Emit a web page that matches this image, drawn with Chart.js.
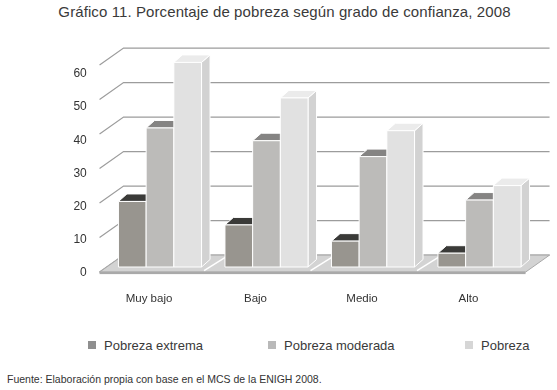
<!DOCTYPE html>
<html>
<head>
<meta charset="utf-8">
<script src="https://cdn.jsdelivr.net/npm/chart.js@4.4.1/dist/chart.umd.min.js"></script>
<style>
  body { margin: 0; background: #fff; font-family: "Liberation Sans", Arial, sans-serif; color: #333; }
  #wrap { position: relative; width: 557px; height: 390px; overflow: hidden; }
  #chart { position: absolute; left: 0; top: 0; }
  #title { position: absolute; left: 6px; top: 3px; width: 557px; text-align: center; font-size: 15px; letter-spacing: 0.1px; color: #3a3a3a; }
  .item { position: absolute; top: 338px; font-size: 13px; color: #3a3a3a; white-space: nowrap; }
  .item i { display: inline-block; width: 8px; height: 8px; margin-right: 8px; vertical-align: 1px; }
  #note { position: absolute; left: 7px; top: 373px; font-size: 10.5px; color: #333; }
</style>
</head>
<body>
<div id="wrap">
  <div id="title">Gráfico 11. Porcentaje de pobreza según grado de confianza, 2008</div>
  <canvas id="chart" width="557" height="320"></canvas>
  <div id="legend"></div>
  <div id="note">Fuente: Elaboración propia con base en el MCS de la ENIGH 2008.</div>
</div>
<script>
// --- datos ---
const categories = ['Muy bajo', 'Bajo', 'Medio', 'Alto'];
const seriesNames = ['Pobreza extrema', 'Pobreza moderada', 'Pobreza'];
const extrema = [19, 12.2, 7.5, 4];
const moderada = [40.3, 36.6, 32, 19.4];
const pobreza = [59.3, 49, 39.5, 23.6];
const tickValues = [0, 10, 20, 30, 40, 50, 60];

// colores de las caras (frente, arriba, lado)
const frontColors = ['#98958f', '#bcbbb9', '#e1e1e1'];
const topColors = ['#3a3a38', '#858483', '#ebebeb'];
const sideColors = ['#7a7874', '#a5a4a2', '#d2d2d2'];
const legendColors = ['#8f8f8f', '#b9b9b9', '#d6d6d6'];

// profundidad del "piso" y de las barras
const depth = { dx: 24, dy: -17, front: 0.3 };
const barDepth = { dx: 8.5, dy: -7.5 };

function poly(ctx, pts, fill) {
    ctx.beginPath();
    ctx.moveTo(pts[0][0], pts[0][1]);
    for (let k = 1; k < pts.length; k++) ctx.lineTo(pts[k][0], pts[k][1]);
    ctx.closePath();
    ctx.fillStyle = fill;
    ctx.fill();
    ctx.stroke();
}

const fake3d = {
    id: 'fake3d',
    beforeDatasetsDraw(chart) {
        const ctx = chart.ctx;
        const area = chart.chartArea;
        const ys = chart.scales.y;
        const fx = -depth.dx * depth.front, fy = -depth.dy * depth.front;
        const bx = depth.dx * (1 - depth.front), by = depth.dy * (1 - depth.front);

        ctx.save();
        // rejilla: diagonal en la pared lateral + horizontal en el fondo
        ctx.strokeStyle = '#9c9c9c';
        ctx.lineWidth = 1.2;
        tickValues.forEach(v => {
            const yb = ys.getPixelForValue(v);
            ctx.beginPath();
            ctx.moveTo(area.left + fx, yb + fy);
            ctx.lineTo(area.left + bx, yb + by);
            ctx.lineTo(area.right + bx, yb + by);
            ctx.stroke();
        });

        // piso
        const y0 = ys.getPixelForValue(0);
        ctx.strokeStyle = '#a8a8a8';
        ctx.lineWidth = 1;
        poly(ctx, [
            [area.left + fx, y0 + fy], [area.right + fx, y0 + fy],
            [area.right + bx, y0 + by], [area.left + bx, y0 + by]
        ], '#d3d3d3');
        ctx.fillStyle = '#a9a9a9';
        ctx.fillRect(area.left + fx, y0 + fy - 0.5, area.right - area.left, 2.5);
        // separaciones blancas entre grupos
        const xs = chart.scales.x;
        ctx.strokeStyle = '#ffffff';
        ctx.lineWidth = 1.5;
        for (let j = 1; j < categories.length; j++) {
            const xm = (xs.getPixelForValue(j - 1) + xs.getPixelForValue(j)) / 2;
            ctx.beginPath();
            ctx.moveTo(xm + fx - 2, y0 + fy - 1.5);
            ctx.lineTo(xm + bx - 2, y0 + by + 0.5);
            ctx.stroke();
        }

        // barras 3D
        ctx.strokeStyle = '#ffffff';
        ctx.lineWidth = 1;
        for (let j = 0; j < categories.length; j++) {
            chart.data.datasets.forEach((ds, i) => {
                const el = chart.getDatasetMeta(i).data[j];
                const p = el.getProps(['x', 'y', 'base', 'width'], true);
                const l = p.x - p.width / 2, r = p.x + p.width / 2;
                const dx = barDepth.dx, dy = barDepth.dy;
                poly(ctx, [[r, p.y], [r + dx, p.y + dy], [r + dx, p.base + dy], [r, p.base]], sideColors[i]);
                poly(ctx, [[l, p.y], [r, p.y], [r + dx, p.y + dy], [l + dx, p.y + dy]], topColors[i]);
                poly(ctx, [[l, p.y], [r, p.y], [r, p.base], [l, p.base]], frontColors[i]);
            });
        }
        ctx.restore();
        return false;
    }
};

new Chart(document.getElementById('chart'), {
    type: 'bar',
    data: {
        labels: categories,
        datasets: [extrema, moderada, pobreza].map((values, i) => ({
            label: seriesNames[i],
            data: values,
            backgroundColor: frontColors[i],
            yAxisID: 'y',
            categoryPercentage: 0.78,
            barPercentage: 1
        }))
    },
    options: {
        responsive: false,
        animation: false,
        devicePixelRatio: 1,
        layout: { padding: { left: 0, top: 60, right: 24.25, bottom: 0 } },
        plugins: { legend: { display: false }, tooltip: { enabled: false } },
        scales: {
            x: {
                grid: { display: false, drawTicks: false },
                border: { display: false },
                ticks: { color: '#333', font: { family: 'Liberation Sans', size: 11.5 }, padding: 25, labelOffset: -11 },
                afterFit(scale) { scale.height = 53; }
            },
            y: {
                display: false,
                min: 0,
                max: 60,
                afterFit(scale) { scale.width = 0; }
            },
            // eje solo para las etiquetas (en el original no caen justo en la rejilla)
            yt: {
                position: 'left',
                min: 1.81,
                max: 64.16,
                grid: { display: false, drawTicks: false },
                border: { display: false },
                ticks: { color: '#333', font: { family: 'Liberation Sans', size: 12 }, padding: 20 },
                afterBuildTicks(scale) { scale.ticks = tickValues.map(v => ({ value: v })); },
                afterFit(scale) { scale.width = 106.75; }
            }
        }
    },
    plugins: [fake3d]
});

// leyenda
const legendX = [88, 268, 465];
const legend = document.getElementById('legend');
seriesNames.forEach((name, i) => {
    const d = document.createElement('div');
    d.className = 'item';
    d.style.left = legendX[i] + 'px';
    d.innerHTML = '<i style="background:' + legendColors[i] + '"></i>' + name;
    legend.appendChild(d);
});
</script>
</body>
</html>
